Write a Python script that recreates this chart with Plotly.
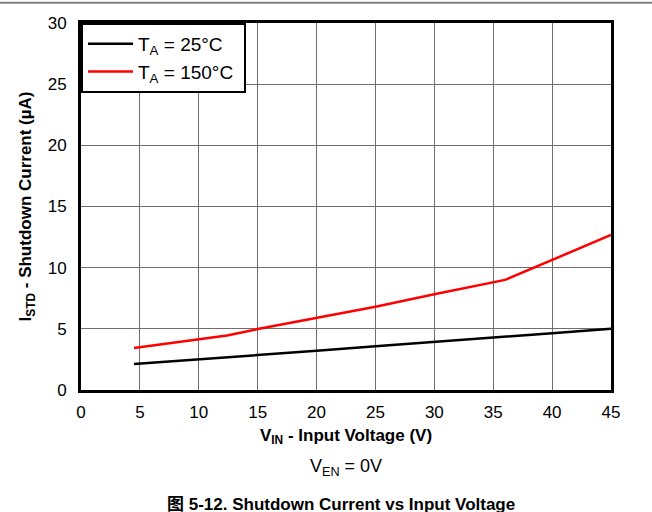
import plotly.graph_objects as go

# Shutdown current vs input voltage, V_EN = 0 V
vin_25 = [4.5, 10, 15, 20, 25, 30, 35, 40, 45]
istd_25 = [2.13, 2.5, 2.85, 3.2, 3.58, 3.92, 4.28, 4.64, 5.0]

vin_150 = [4.5, 12.4, 15, 20, 25, 30, 36, 45]
istd_150 = [3.43, 4.45, 4.98, 5.88, 6.81, 7.82, 9.0, 12.67]

x_ticks = [0, 5, 10, 15, 20, 25, 30, 35, 40, 45]
y_ticks = [0, 5, 10, 15, 20, 25, 30]

FONT = "Liberation Sans, Arial, sans-serif"

fig = go.Figure()
fig.add_trace(go.Scatter(x=vin_25, y=istd_25, mode="lines",
                         line=dict(color="black", width=2.5),
                         name="T<sub>A</sub> = 25°C "))
fig.add_trace(go.Scatter(x=vin_150, y=istd_150, mode="lines",
                         line=dict(color="#ff0000", width=2.5),
                         name="T<sub>A</sub> = 150°C "))

fig.update_layout(
    width=652, height=512,
    margin=dict(l=81, r=41, t=23, b=122),
    paper_bgcolor="white", plot_bgcolor="white",
    font=dict(family=FONT, size=16, color="black"),
    showlegend=True,
    legend=dict(x=0, y=1, xanchor="left", yanchor="top",
                bgcolor="white", bordercolor="black", borderwidth=2,
                font=dict(family=FONT, size=19), tracegroupgap=0,
                itemwidth=45),
    xaxis=dict(range=[0, 45], tickvals=x_ticks, ticks="", showgrid=True,
               gridcolor="#6e6e6e", gridwidth=1, showline=True,
               linecolor="black", linewidth=3, mirror=True, zeroline=False,
               tickfont=dict(size=17), ticklabelstandoff=5,
               title=dict(text="<b>V<sub>IN</sub> - Input Voltage (V)</b>",
                          font=dict(size=17), standoff=8)),
    yaxis=dict(range=[0, 30], tickvals=y_ticks, ticks="", showgrid=True,
               gridcolor="#6e6e6e", gridwidth=1, showline=True,
               linecolor="black", linewidth=3, mirror=True, zeroline=False,
               tickfont=dict(size=17), ticklabelstandoff=8,
               title=dict(text="<b>I<sub>STD</sub> - Shutdown Current (µA)</b>",
                          font=dict(size=17), standoff=12)),
)

fig.add_annotation(text="V<sub>EN</sub> = 0V", xref="paper", yref="paper",
                   x=0.5, y=-0.175, xanchor="center", yanchor="top",
                   showarrow=False, font=dict(family=FONT, size=18))
fig.add_annotation(text="<b>图 5-12. Shutdown Current vs Input Voltage</b>",
                   xref="paper", yref="paper", x=0.49, y=-0.28,
                   xanchor="center", yanchor="top", showarrow=False,
                   font=dict(family="Liberation Sans, Noto Sans CJK SC, sans-serif",
                             size=17))
fig.add_shape(type="line", xref="paper", yref="paper",
              x0=-0.2, x1=1.2, y0=1.055, y1=1.055,
              line=dict(color="#808080", width=2))

fig.write_html("out.html")
